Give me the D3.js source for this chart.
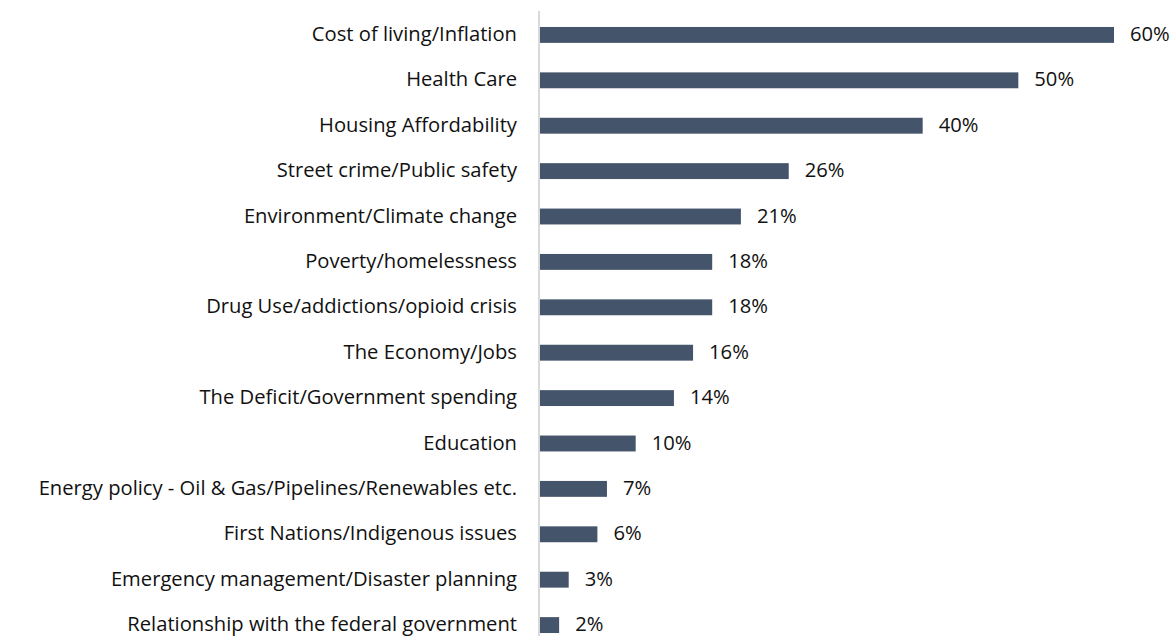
<!DOCTYPE html>
<html>
<head>
<meta charset="utf-8">
<script src="https://cdn.jsdelivr.net/npm/d3@7"></script>
<style>
  html, body { margin: 0; padding: 0; background: #ffffff; overflow: hidden; }
  svg { display: block; }
  text { font-family: "Open Sans", sans-serif; fill: #111111; }
</style>
</head>
<body>
<svg id="chart" width="1171" height="636"></svg>
<script>
// Issue categories, top to bottom
const categories = [
  "Cost of living/Inflation",
  "Health Care",
  "Housing Affordability",
  "Street crime/Public safety",
  "Environment/Climate change",
  "Poverty/homelessness",
  "Drug Use/addictions/opioid crisis",
  "The Economy/Jobs",
  "The Deficit/Government spending",
  "Education",
  "Energy policy - Oil & Gas/Pipelines/Renewables etc.",
  "First Nations/Indigenous issues",
  "Emergency management/Disaster planning",
  "Relationship with the federal government"
];

// Share of respondents naming each issue (%)
const values = [60, 50, 40, 26, 21, 18, 18, 16, 14, 10, 7, 6, 3, 2];

const svg = d3.select("#chart");
const x0 = 540;
const fontSize = 20.2;

const x = d3.scaleLinear().domain([0, 60]).range([x0, x0 + 574]);
const y = d3.scaleBand().domain(categories).range([12, 648]).paddingInner(0.65).paddingOuter(0.33);

// Category axis line
svg.append("line")
  .attr("x1", x0 - 1).attr("x2", x0 - 1)
  .attr("y1", 11).attr("y2", 636)
  .attr("stroke", "#d9d9d9").attr("stroke-width", 2);

// Bars
svg.selectAll("rect.bar")
  .data(values)
  .join("rect")
  .attr("class", "bar")
  .attr("x", x(0))
  .attr("y", (d, i) => y(categories[i]))
  .attr("width", d => x(d) - x(0))
  .attr("height", y.bandwidth())
  .attr("fill", "#44546a");

// Value labels
svg.selectAll("text.val")
  .data(values)
  .join("text")
  .attr("class", "val")
  .attr("x", d => x(d) + 16)
  .attr("y", (d, i) => y(categories[i]) + y.bandwidth() / 2)
  .attr("dy", "0.3em")
  .attr("font-size", fontSize)
  .text(d => d + "%");

// Category labels
svg.selectAll("text.cat")
  .data(categories)
  .join("text")
  .attr("class", "cat")
  .attr("x", x0 - 23)
  .attr("y", d => y(d) + y.bandwidth() / 2)
  .attr("dy", "0.3em")
  .attr("text-anchor", "end")
  .attr("font-size", fontSize)
  .text(d => d);
</script>
</body>
</html>
